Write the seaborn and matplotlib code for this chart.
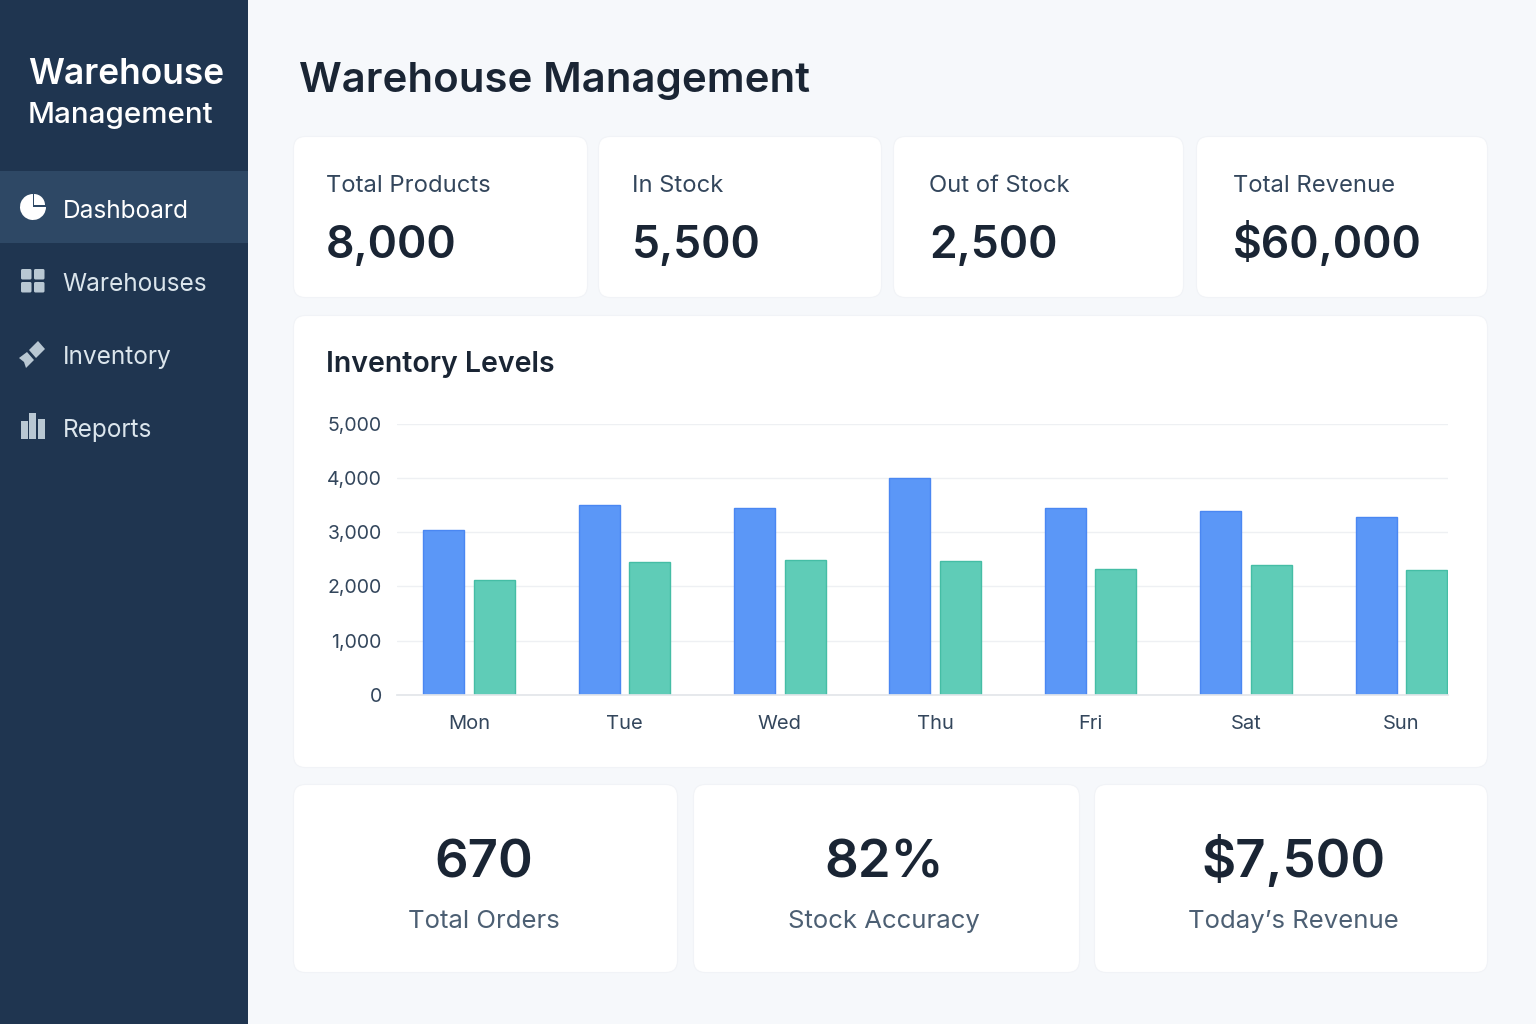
# Warehouse dashboard recreated with seaborn + matplotlib patches
import matplotlib
matplotlib.use("Agg")
import matplotlib.pyplot as plt
from matplotlib.patches import FancyBboxPatch, Rectangle, Wedge, Polygon
import pandas as pd
import seaborn as sns

# Chart data
days = ["Mon", "Tue", "Wed", "Thu", "Fri", "Sat", "Sun"]
in_stock = [3040, 3500, 3440, 4000, 3440, 3390, 3280]
out_stock = [2120, 2450, 2490, 2470, 2320, 2400, 2300]
y_ticks = [0, 1000, 2000, 3000, 4000, 5000]

# Text content
menu_items = ["Dashboard", "Warehouses", "Inventory", "Reports"]
top_labels = ["Total Products", "In Stock", "Out of Stock", "Total Revenue"]
top_values = ["8,000", "5,500", "2,500", "$60,000"]
bottom_labels = ["Total Orders", "Stock Accuracy", "Today\u2019s Revenue"]
bottom_values = ["670", "82%", "$7,500"]

W, H = 1536, 1024
SIDEBAR = "#1f3550"
ACTIVE = "#2e4865"
PAGE = "#f6f8fb"
DARK = "#1a2534"
MID = "#33465c"
SOFT = "#4c5f73"
ICON = "#b9c8d3"
BLUE = "#5b97f7"
GREEN = "#5fccb7"

sns.set_theme(style="white")
plt.rcParams["font.family"] = ["Inter", "DejaVu Sans"]

fig = plt.figure(figsize=(W / 100, H / 100), dpi=100, facecolor=PAGE)

# Full page axes working in pixels
bg = fig.add_axes([0, 0, 1, 1])
bg.set_xlim(0, W)
bg.set_ylim(H, 0)
bg.axis("off")


def card(x0, y0, x1, y1):
    bg.add_patch(FancyBboxPatch((x0 + 12, y0 + 12), x1 - x0 - 24, y1 - y0 - 24,
                                boxstyle="round,pad=12.5,rounding_size=12",
                                fc="white", ec="#f1f3f7", lw=0.8))


# Sidebar
bg.add_patch(Rectangle((0, 0), 248, H, fc=SIDEBAR, ec="none"))
bg.add_patch(Rectangle((0, 171), 248, 72, fc=ACTIVE, ec="none"))
bg.text(28, 84, "Warehouse", fontsize=25.4, fontweight="semibold", color="white", va="baseline")
bg.text(28, 123, "Management", fontsize=21.3, fontweight="medium", color="white", va="baseline")

menu_y = [218, 291, 364, 437]
for i, (name, y) in enumerate(zip(menu_items, menu_y)):
    bg.text(62.5, y, name, fontsize=17.6, va="baseline",
            color="white" if i == 0 else "#dbe5ec")

# Sidebar icons
bg.add_patch(Wedge((33, 207), 13, 0, 270, fc="white", ec="none"))
bg.add_patch(Wedge((34, 205), 11, 270, 360, fc="white", ec="none"))
for x, y in [(21, 269), (34, 269), (21, 282), (34, 282)]:
    bg.add_patch(FancyBboxPatch((x + 1, y + 1), 8.5, 8.5, boxstyle="round,pad=1,rounding_size=1.5",
                                fc=ICON, ec="none"))
bg.add_patch(Polygon([(29, 350), (38, 341), (45, 349), (36, 358)], fc=ICON, ec="none"))
bg.add_patch(Polygon([(19, 358), (27, 352), (34, 360), (26, 368), (24, 362)], fc=ICON, ec="none"))
for x, top, bottom in [(21, 421, 439), (29, 413, 439), (38, 419, 439)]:
    bg.add_patch(Rectangle((x, top), 7, bottom - top, fc=ICON, ec="none"))

# Page title
bg.text(299, 92, "Warehouse Management", fontsize=30.2, fontweight="semibold", color=DARK, va="baseline")

# Top cards
top_boxes = [(294, 587), (599, 881), (894, 1183), (1197, 1487)]
top_text_x = [326, 632, 929, 1233]
for (x0, x1), tx, label, value in zip(top_boxes, top_text_x, top_labels, top_values):
    card(x0, 137, x1, 297)
    bg.text(tx, 192, label, fontsize=17.1, color=MID, va="baseline")
    bg.text(tx, 258, value, fontsize=32, fontweight="semibold", color=DARK, va="baseline")

# Chart card
card(294, 316, 1487, 767)
bg.text(326, 372, "Inventory Levels", fontsize=20.5, fontweight="semibold", color=DARK, va="baseline")

# Bottom cards
bottom_boxes = [(294, 677), (694, 1079), (1095, 1487)]
bottom_text_x = [484, 884, 1293]
for (x0, x1), tx, label, value in zip(bottom_boxes, bottom_text_x, bottom_labels, bottom_values):
    card(x0, 785, x1, 972)
    bg.text(tx, 877, value, fontsize=38, fontweight="semibold", color=DARK, va="baseline", ha="center")
    bg.text(tx, 928, label, fontsize=18.5, color=SOFT, va="baseline", ha="center")

# Bar chart
df = pd.DataFrame({"day": days * 2,
                   "units": in_stock + out_stock,
                   "series": ["In Stock"] * len(days) + ["Out of Stock"] * len(days)})

ax = fig.add_axes([397 / W, 1 - 695 / H, (1448 - 397) / W, (695 - 423.5) / H])
sns.barplot(data=df, x="day", y="units", hue="series", ax=ax, order=days,
            palette=[BLUE, GREEN], width=0.651, gap=0.19, legend=False, saturation=1)
for bars, edge in zip(ax.containers, ["#4a87f2", "#45bda5"]):
    for bar in bars:
        bar.set_edgecolor(edge)
        bar.set_linewidth(1)

ax.set_xlim(-0.464, 6.30)
ax.set_ylim(0, 5000)
ax.patch.set_alpha(0)
ax.set_xlabel("")
ax.set_ylabel("")
ax.set_yticks(y_ticks)
ax.set_yticklabels([f"{v:,}" for v in y_ticks])
ax.grid(axis="y", color="#eef0f3", lw=1)
ax.set_axisbelow(True)
sns.despine(ax=ax, left=True, top=True, right=True)
ax.spines["bottom"].set_color("#e3e6ea")
ax.tick_params(axis="y", length=0, pad=11, labelsize=14, labelcolor=MID)
ax.tick_params(axis="x", length=0, pad=14.5, labelsize=14.5, labelcolor=MID)

fig.savefig("out.png", dpi=100, facecolor=PAGE)
